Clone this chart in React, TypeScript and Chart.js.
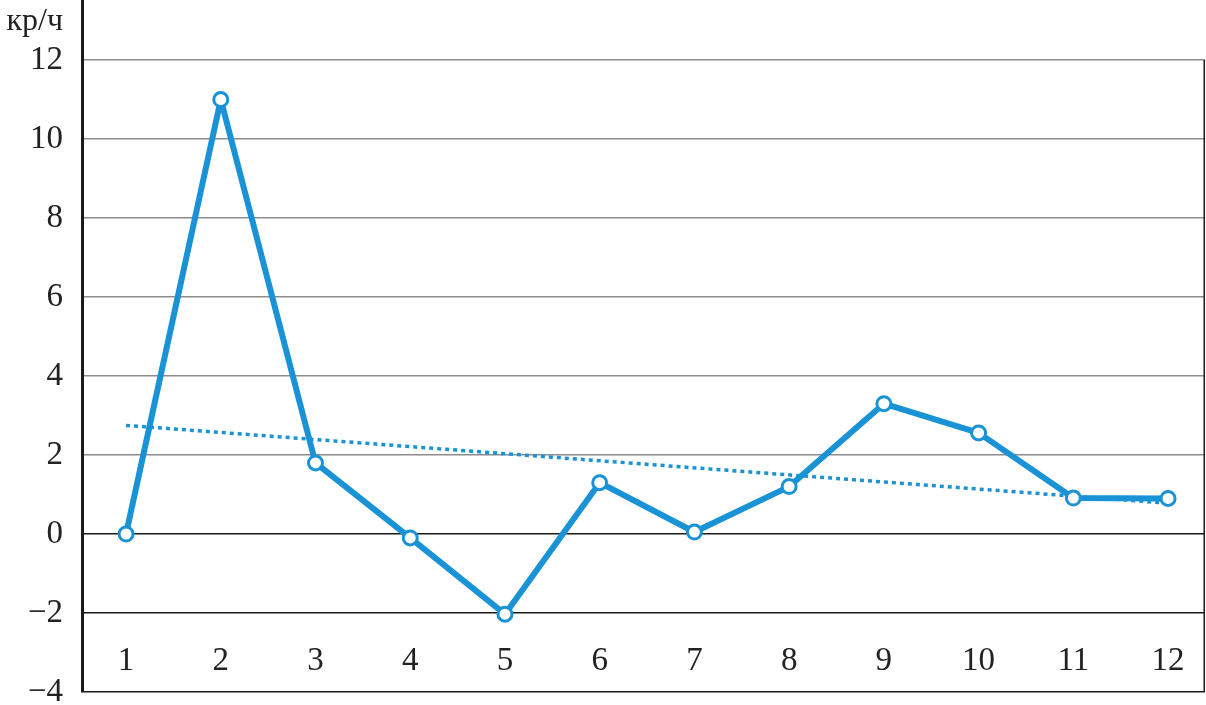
import React, { useEffect, useRef } from "react";
import { Chart, registerables } from "chart.js";

Chart.register(...registerables);

const categories = [1, 2, 3, 4, 5, 6, 7, 8, 9, 10, 11, 12];
const values = [0, 11, 1.8, -0.1, -2.03, 1.3, 0.05, 1.2, 3.3, 2.56, 0.91, 0.9];
const trendX = [1, 12];
const trendY = [2.75, 0.78];
const yTicks = [-4, -2, 0, 2, 4, 6, 8, 10, 12];
const unitLabel = "кр/ч";

const BLUE = "#1a93d6";
const FONT = "'Liberation Serif', 'DejaVu Serif', serif";

export default function App() {
  const ref = useRef<HTMLCanvasElement | null>(null);

  useEffect(() => {
    document.body.style.margin = "0";
    const canvas = ref.current;
    if (!canvas) return;

    const overlay = {
      id: "overlay",
      afterDraw(chart: any) {
        const { ctx, chartArea, scales } = chart;
        const x = scales.x;
        const y = scales.y;
        ctx.save();
        // right border from 12 down to bottom
        ctx.strokeStyle = "#1a1a1a";
        ctx.lineWidth = 1.5;
        ctx.beginPath();
        ctx.moveTo(chartArea.right - 0.75, y.getPixelForValue(12));
        ctx.lineTo(chartArea.right - 0.75, chartArea.bottom);
        ctx.stroke();
        // category labels inside the plot
        ctx.fillStyle = "#222";
        ctx.font = `33px ${FONT}`;
        ctx.textAlign = "center";
        ctx.textBaseline = "middle";
        categories.forEach((c) => {
          ctx.fillText(String(c), x.getPixelForValue(c), y.getPixelForValue(-3.22));
        });
        // unit label
        ctx.font = `32px ${FONT}`;
        ctx.textAlign = "right";
        ctx.fillText(unitLabel, y.right - 19, 22);
        ctx.restore();
      },
    };

    const chart = new Chart(canvas, {
      type: "line",
      data: {
        datasets: [
          {
            data: categories.map((c, i) => ({ x: c, y: values[i] })),
            borderColor: BLUE,
            borderWidth: 6,
            borderJoinStyle: "round",
            borderCapStyle: "round",
            pointRadius: 7,
            pointBorderWidth: 3,
            pointBackgroundColor: "#ffffff",
            pointBorderColor: BLUE,
            tension: 0,
            order: 0,
          },
          {
            data: trendX.map((c, i) => ({ x: c, y: trendY[i] })),
            borderColor: BLUE,
            borderWidth: 3.5,
            borderDash: [4, 4],
            pointRadius: 0,
            tension: 0,
            order: 1,
          },
        ],
      },
      options: {
        responsive: false,
        animation: false,
        layout: { autoPadding: false, padding: { left: 0, right: 1, top: 0, bottom: 13 } },
        plugins: {
          legend: { display: false },
          tooltip: { enabled: false },
        },
        scales: {
          x: {
            type: "linear",
            display: false,
            min: 0.535,
            max: 12.39,
          },
          y: {
            type: "linear",
            min: -4,
            max: 13.52,
            afterBuildTicks: (scale: any) => {
              scale.ticks = yTicks.map((v) => ({ value: v }));
            },
            afterFit: (scale: any) => {
              scale.width = 82;
              scale.paddingTop = 0;
              scale.paddingBottom = 0;
              scale.paddingLeft = 0;
              scale.paddingRight = 0;
            },
            border: { display: true, color: "#1a1a1a", width: 3 },
            grid: {
              drawTicks: false,
              lineWidth: 1.5,
              color: (ctx: any) =>
                ctx.tick && ctx.tick.value > 0 ? "#8c8c8c" : "#1a1a1a",
            },
            ticks: {
              padding: 19,
              color: "#222",
              font: { family: FONT, size: 33 },
              callback: (v: any) =>
                Number(v) < 0 ? "\u2212" + Math.abs(Number(v)) : String(v),
            },
          },
        },
      },
      plugins: [overlay],
    });

    return () => chart.destroy();
  }, []);

  return (
    <div style={{ position: "absolute", left: 0, top: 0, width: 1206, height: 705, background: "#fff" }}>
      <canvas ref={ref} width={1206} height={705} style={{ width: 1206, height: 705 }} />
    </div>
  );
}
